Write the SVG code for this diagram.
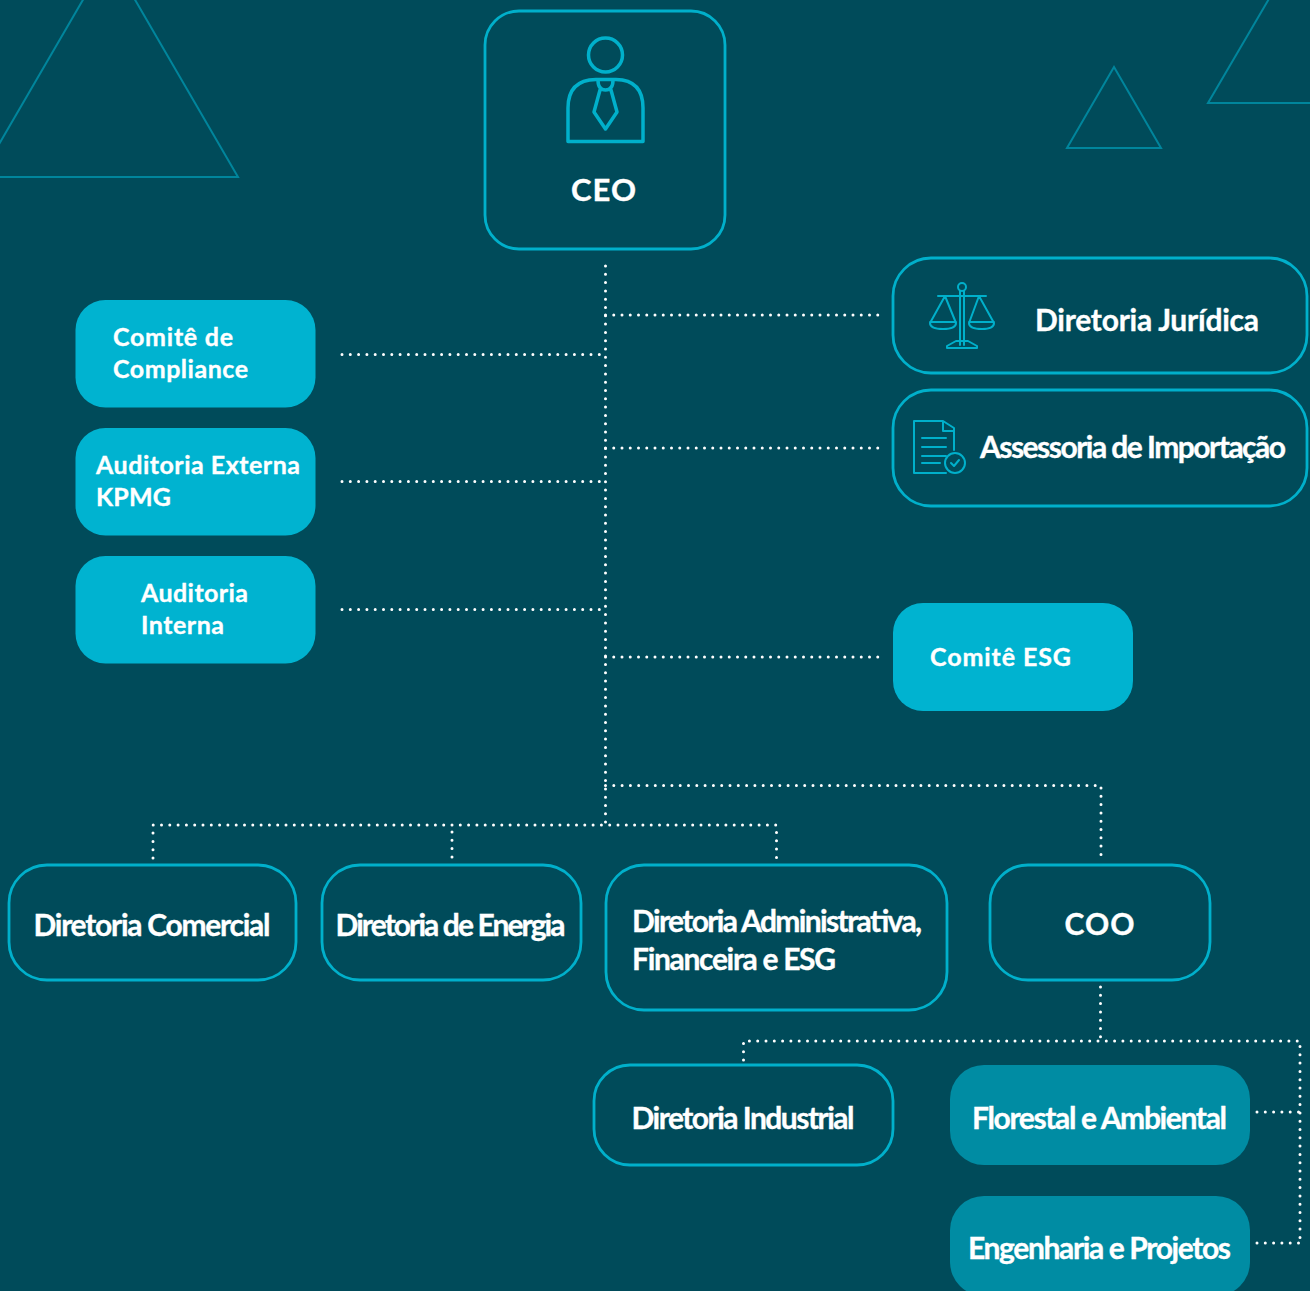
<svg xmlns="http://www.w3.org/2000/svg" width="1310" height="1291" viewBox="0 0 1310 1291">
<style>
.o{fill:none;stroke:#00b0cb;stroke-width:2.800}
.f{fill:#00b3d0}
.g{fill:#008ca3}
.t{fill:#fff;stroke:#fff;stroke-width:.35px;font-family:Lato,"Open Sans",sans-serif;font-weight:700}
.n{font-size:30px}
.s{font-size:25px}
.i{fill:none;stroke:#00b0cb;stroke-width:2;stroke-linejoin:round;stroke-linecap:round}
.d{fill:none;stroke:#fff;stroke-width:3;stroke-linecap:round;stroke-dasharray:0 8.3}
.e{stroke-dasharray:0 8.25}
.tri{fill:none;stroke:#00859c;stroke-width:2}
</style>
<rect width="1310" height="1291" fill="#004b5a"/>
<g id="decor">
<path class="tri" d="M-20 177 L109 -45 L238 177 Z"/>
<path class="tri" d="M1114 67 L1161 148 L1067 148 Z"/>
<path class="tri" d="M1280 -20 L1208 103 L1330 103"/>
</g>
<g id="connectors">
<path class="d" d="M605.500 266V825"/>
<path class="d e" d="M605.500 315H879"/>
<path class="d e" d="M605.500 448H879"/>
<path class="d e" d="M605.500 657H879"/>
<path class="d" d="M342 354.500H607"/>
<path class="d" d="M342 481.500H607"/>
<path class="d" d="M342 609.500H607"/>
<path class="d" d="M605.500 785.500H1101V858"/>
<path class="d" d="M153 858V825H776.500V858"/>
<path class="d" d="M452 832V858"/>
<path class="d" d="M1100.500 987V1041"/>
<path class="d" d="M743.500 1060V1041H1300V1243"/>
<path class="d" d="M1257 1112H1299"/>
<path class="d" d="M1257 1243H1299"/>
</g>
<g id="ceo">
<rect class="o" x="485" y="11" width="240" height="238" rx="34"/>
<circle class="i" style="stroke-width:3.500" cx="605.500" cy="55" r="17"/>
<path class="i" style="stroke-width:3.500" d="M568 141.500V108Q568 80 596 79.500H616Q643 80 643 108V141.500Z"/>
<path class="i" style="stroke-width:3.500" d="M598 80Q598 90 605.500 90Q613 90 613 80M600 90L594 112L605.500 129L617 112L611 90"/>
<text class="t" x="571" y="201" font-size="31" textLength="65">CEO</text>
</g>
<g id="juridica">
<rect class="o" x="893" y="258" width="414" height="115" rx="38"/>
<path class="i" d="M960 291V345M964 291V345M938 296H986M945 296L930 323Q930 329 943 329Q956 329 956 323ZM979 296L969 323Q969 329 982 329Q994 329 994 323ZM930 322H956M969 322H994M947 346L956 341H968L977 346V348H947Z"/>
<circle class="i" cx="962" cy="287" r="4"/>
<text class="t n" x="1035" y="331" textLength="224">Diretoria Jurídica</text>
</g>
<g id="importacao">
<rect class="o" x="893" y="390" width="414" height="116" rx="38"/>
<path class="i" d="M954 450V428L943 421H914V473H946M943 421V431H954M922 438H946M922 447H946M922 456H946M922 463H940"/>
<circle class="i" cx="955" cy="463" r="10"/>
<path class="i" d="M951 463L954 466L959 460"/>
<text class="t n" x="980" y="458" textLength="306">Assessoria de Importação</text>
</g>
<g id="compliance">
<rect class="f" x="75.500" y="300" width="240" height="107.500" rx="30"/>
<text class="t s" x="113" y="346" textLength="120">Comitê de</text>
<text class="t s" x="113" y="378" textLength="135">Compliance</text>
</g>
<g id="auditoria-externa">
<rect class="f" x="75.500" y="428" width="240" height="107.500" rx="30"/>
<text class="t s" x="96" y="474" textLength="204">Auditoria Externa</text>
<text class="t s" x="96" y="506" textLength="75">KPMG</text>
</g>
<g id="auditoria-interna">
<rect class="f" x="75.500" y="556" width="240" height="107.500" rx="30"/>
<text class="t s" x="141" y="602" textLength="107">Auditoria</text>
<text class="t s" x="141" y="634" textLength="83">Interna</text>
</g>
<g id="esg">
<rect class="f" x="893" y="603" width="240" height="108" rx="30"/>
<text class="t s" x="930" y="666" textLength="141">Comitê ESG</text>
</g>
<g id="comercial">
<rect class="o" x="9" y="865" width="287" height="115" rx="38"/>
<text class="t n" x="33.500" y="936" textLength="237">Diretoria Comercial</text>
</g>
<g id="energia">
<rect class="o" x="322" y="865" width="259" height="115" rx="38"/>
<text class="t n" x="335.500" y="936" textLength="230">Diretoria de Energia</text>
</g>
<g id="administrativa">
<rect class="o" x="606" y="865" width="341" height="145" rx="38"/>
<text class="t n" x="632" y="932" textLength="290">Diretoria Administrativa,</text>
<text class="t n" x="632" y="970" textLength="204">Financeira e ESG</text>
</g>
<g id="coo">
<rect class="o" x="990" y="865" width="220" height="115" rx="38"/>
<text class="t n" x="1064.500" y="935" textLength="70">COO</text>
</g>
<g id="industrial">
<rect class="o" x="594" y="1065" width="299" height="100" rx="36"/>
<text class="t n" x="631.500" y="1129" textLength="223">Diretoria Industrial</text>
</g>
<g id="florestal">
<rect class="g" x="950" y="1065" width="300" height="100" rx="34"/>
<text class="t n" x="972" y="1129" textLength="255">Florestal e Ambiental</text>
</g>
<g id="engenharia">
<rect class="g" x="950" y="1196" width="300" height="100" rx="34"/>
<text class="t n" x="968" y="1259" textLength="263">Engenharia e Projetos</text>
</g>
</svg>
